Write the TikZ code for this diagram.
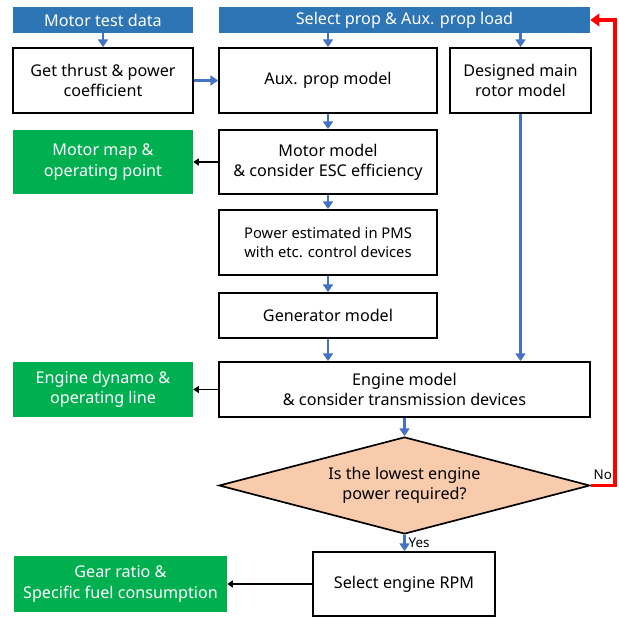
\documentclass[tikz,border=0pt]{standalone}
\usepackage{fontspec}
\setmainfont{Noto Sans}
\usetikzlibrary{shapes.geometric,arrows.meta}

\definecolor{hdrblue}{RGB}{46,117,182}
\definecolor{arrblue}{RGB}{68,114,196}
\definecolor{resgreen}{RGB}{0,176,80}
\definecolor{decpeach}{RGB}{248,203,173}

\begin{document}
\begin{tikzpicture}[
	font=\fontsize{11.5}{14.5}\selectfont,
	proc/.style={draw, line width=1.2pt, align=center, inner sep=2pt},
	hdr/.style={fill=hdrblue, text=white, align=center, inner sep=0pt},
	result/.style={fill=resgreen, text=white, align=center, inner sep=0pt},
	decide/.style={diamond, aspect=3.8, draw, fill=decpeach, line width=1.2pt, align=center, inner sep=0pt},
	flowarr/.style={draw=arrblue, line width=2pt, -{Triangle[width=7pt,length=5.5pt]}},
	outarr/.style={line width=1.4pt, -{Triangle[width=5pt,length=4pt]}},
	loopback/.style={draw=red, line width=2.6pt, -{Triangle[width=9pt,length=6.5pt]}},
]
	\useasboundingbox (0,0) rectangle (15.45,-15.45);

	% inputs
	\node[hdr, minimum width=4.5cm, minimum height=0.65cm] (test) at (2.575,-0.5) {Motor test data};
	\node[hdr, minimum width=9.275cm, minimum height=0.65cm] (sel) at (10.1125,-0.5) {Select prop \& Aux. prop load};

	\node[proc, minimum width=4.5cm, minimum height=1.625cm] (thrust) at (2.575,-2.0125) {Get thrust \& power\\coefficient};
	\node[proc, minimum width=5.45cm, minimum height=1.625cm] (aux) at (8.2,-2.0125) {Aux. prop model};
	\node[proc, minimum width=3.525cm, minimum height=1.625cm] (rotor) at (13.0125,-2.0125) {Designed main\\rotor model};

	% motor / generator chain
	\node[result, minimum width=4.5cm, minimum height=1.6cm] (map) at (2.575,-4.05) {Motor map \&\\operating point};
	\node[proc, minimum width=5.45cm, minimum height=1.6cm] (motor) at (8.2,-4.05) {Motor model\\\& consider ESC efficiency};
	\node[proc, minimum width=5.45cm, minimum height=1.625cm, font=\fontsize{10.5}{14}\selectfont] (pms) at (8.2,-6.0625) {Power estimated in PMS\\with etc. control devices};
	\node[proc, minimum width=5.45cm, minimum height=1.125cm] (gen) at (8.2,-7.8875) {Generator model};

	% engine
	\node[result, minimum width=4.5cm, minimum height=1.375cm] (dyn) at (2.575,-9.7375) {Engine dynamo \&\\operating line};
	\node[proc, minimum width=9.275cm, minimum height=1.375cm] (eng) at (10.1125,-9.7375) {Engine model\\\& consider transmission devices};

	\node[decide, minimum width=9.275cm, minimum height=2.425cm] (dia) at (10.1125,-12.1375) {Is the lowest engine\\power required?};

	\node[proc, minimum width=4.55cm, minimum height=1.6cm] (rpm) at (10.1,-14.6) {Select engine RPM};
	\node[result, minimum width=5.325cm, minimum height=1.4cm] (gear) at (3.0125,-14.6) {Gear ratio \&\\Specific fuel consumption};

	% blue flow
	\draw[flowarr] (test) -- (thrust);
	\draw[flowarr] (aux.north |- sel.south) -- (aux.north);
	\draw[flowarr] (rotor.north |- sel.south) -- (rotor.north);
	\draw[flowarr] (thrust) -- (aux);
	\draw[flowarr] (aux) -- (motor);
	\draw[flowarr] (motor) -- (pms);
	\draw[flowarr] (pms) -- (gen);
	\draw[flowarr] (gen.south) -- (gen.south |- eng.north);
	\draw[flowarr] (rotor.south) -- (rotor.south |- eng.north);
	\draw[flowarr] (eng) -- (dia);
	\draw[flowarr] (dia.south) -- node[right, text=black, inner sep=2pt, font=\fontsize{9.5}{11}\selectfont] (yeslbl) {Yes} (dia.south |- rpm.north);

	% results
	\draw[outarr] (motor) -- (map);
	\draw[outarr] (eng) -- (dyn);
	\draw[outarr] (rpm) -- (gear);

	% back to prop selection
	\draw[loopback] (dia.east) -- node[above, text=black, inner sep=3pt, font=\fontsize{9.5}{11}\selectfont] (nolbl) {No} ++(0.6,0) |- (sel.east);
\end{tikzpicture}
\end{document}
